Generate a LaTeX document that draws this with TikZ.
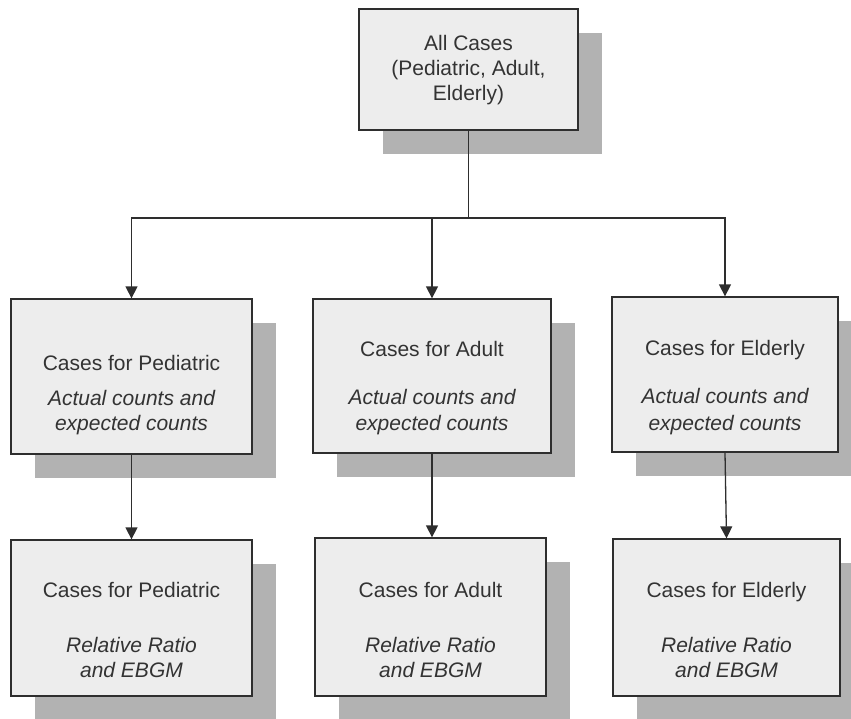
\documentclass[tikz,border=0pt]{standalone}
\usepackage{fontspec}
\setmainfont{Liberation Sans}
\usetikzlibrary{arrows.meta,shadows}
\definecolor{boxfill}{HTML}{EDEDED}
\definecolor{shadowgray}{HTML}{B2B2B2}
\definecolor{linegray}{HTML}{2E2E2E}
\definecolor{textgray}{HTML}{333333}
\begin{document}
\begin{tikzpicture}[x=1pt,y=-1pt,
  box/.style={draw=linegray, line width=1.3pt, fill=boxfill, inner sep=0pt,
    drop shadow={shadow xshift=24pt, shadow yshift=-24pt, opacity=1, fill=shadowgray, draw=none}},
  t/.style={anchor=base, inner sep=0pt, text=textgray, font=\fontsize{21}{25}\selectfont},
  ti/.style={anchor=base, inner sep=0pt, text=textgray, font=\fontsize{21}{25}\selectfont\itshape},
  conn/.style={draw=linegray, line width=1.3pt},
  arr/.style={conn, -{Triangle[width=12pt,length=12pt]}}]
\useasboundingbox (0,0) rectangle (851,718);

% top box
\node[box, minimum width=219pt, minimum height=121pt] (top) at (468.5,69.5) {};
\node[t] (top1) at (468.5,50) {All Cases};
\node[t] (top2) at (468.5,75) {(Pediatric, Adult,};
\node[t] (top3) at (468.5,100) {Elderly)};

% middle row
\node[box, minimum width=241pt, minimum height=155pt] (pedA) at (131.5,376.5) {};
\node[t]  (pedA1) at (131.5,370) {Cases for Pediatric};
\node[ti] (pedA2) at (131.5,405) {Actual counts and};
\node[ti] (pedA3) at (131.5,430) {expected counts};

\node[box, minimum width=238pt, minimum height=154pt] (adA) at (432,376) {};
\node[t]  (adA1) at (432,356) {Cases for Adult};
\node[ti] (adA2) at (432,404) {Actual counts and};
\node[ti] (adA3) at (432,430) {expected counts};

\node[box, minimum width=226pt, minimum height=155pt] (elA) at (725,374.5) {};
\node[t]  (elA1) at (725,355) {Cases for Elderly};
\node[ti] (elA2) at (725,403) {Actual counts and};
\node[ti] (elA3) at (725,430) {expected counts};

% bottom row
\node[box, minimum width=241pt, minimum height=156pt] (pedB) at (131.5,618) {};
\node[t]  (pedB1) at (131.5,597) {Cases for Pediatric};
\node[ti] (pedB2) at (131.5,652) {Relative Ratio};
\node[ti] (pedB3) at (131.5,677) {and EBGM};

\node[box, minimum width=231pt, minimum height=158pt] (adB) at (430.5,617) {};
\node[t]  (adB1) at (430.5,597) {Cases for Adult};
\node[ti] (adB2) at (430.5,652) {Relative Ratio};
\node[ti] (adB3) at (430.5,677) {and EBGM};

\node[box, minimum width=227pt, minimum height=157pt] (elB) at (726.5,617.5) {};
\node[t]  (elB1) at (726.5,597) {Cases for Elderly};
\node[ti] (elB2) at (726.5,652) {Relative Ratio};
\node[ti] (elB3) at (726.5,677) {and EBGM};

% connectors
\coordinate (jn) at (468.5,218);
\draw[conn] (top.south) -- (jn);
\draw[arr] (jn) -| (pedA.north);
\draw[arr] (jn) -| (elA.north);
\draw[arr] (adA.north |- jn) -- (adA.north);
\draw[arr] (pedA.south) -- (pedB.north);
\draw[arr] (adA.south) -- (adA.south |- adB.north);
\draw[arr] (elA.south) -- (elB.north);
\end{tikzpicture}
\end{document}
